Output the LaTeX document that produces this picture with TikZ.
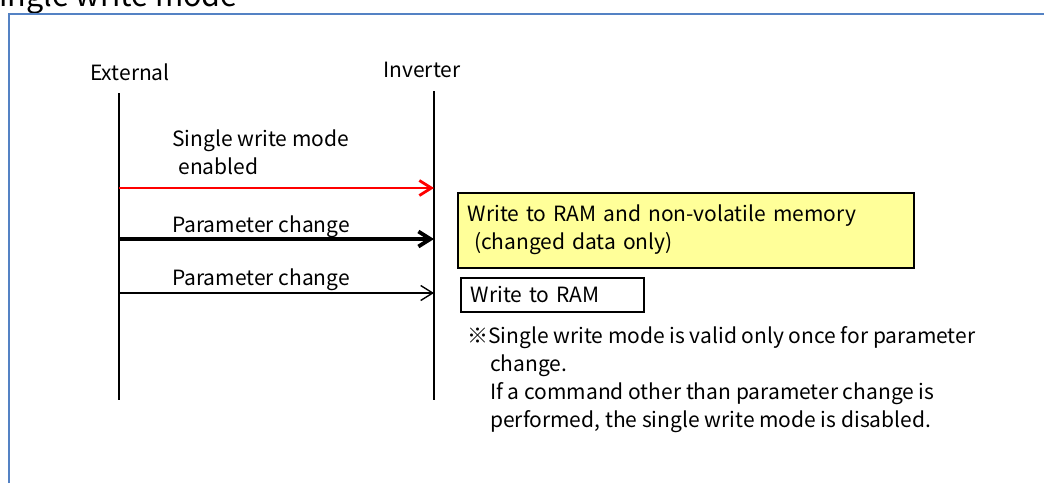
\documentclass[tikz,border=0pt]{standalone}
\usepackage{fontspec}
\setmainfont{Noto Sans CJK JP}
\usetikzlibrary{arrows.meta, positioning}
\definecolor{framebl}{RGB}{84,130,196}
\definecolor{memyel}{RGB}{255,255,153}

\begin{document}
\begin{tikzpicture}[x=1pt, y=-1pt, font=\fontsize{21}{28}\selectfont, >={Straight Barb[length=12pt,width=15pt]}]
    \tikzstyle{lifeline} = [line width=1.6pt]
    \tikzstyle{msg} = [->, line width=1.4pt]
    \tikzstyle{lbl} = [anchor=base west, inner sep=0pt, align=left]
    \tikzstyle{resbox} = [draw, line width=1.5pt, anchor=north west, inner xsep=10pt, inner ysep=0pt, align=left]

    \useasboundingbox (0,0) rectangle (1044,483);
    \clip (0,0) rectangle (1044,483);

    \node [anchor=base east, inner sep=0pt, font=\fontsize{30.5}{36}\selectfont] (title) at (238,6) {Single write mode};
    \draw [framebl, line width=2.6pt] (9,483) -- (9,14) -- (1044,14);

    \node (ext) at (130,72) {External};
    \node (inv) at (422,70) {Inverter};
    \coordinate (extEnd) at (119,400);
    \coordinate (invEnd) at (434,400);
    \draw [lifeline] (ext.south -| extEnd) ++(0,9) -- (extEnd);
    \draw [lifeline] (inv.south -| invEnd) ++(0,10) -- (invEnd);

    \coordinate (m1a) at (119,188);
    \coordinate (m1b) at (434,188);
    \coordinate (m2a) at (119,239);
    \coordinate (m2b) at (434,239);
    \coordinate (m3a) at (119,293);
    \coordinate (m3b) at (434,293);

    \draw [msg, red, line width=2.8pt] (m1a) -- (m1b);
    \draw [msg, line width=3.8pt] (m2a) -- (m2b);
    \draw [msg] (m3a) -- (m3b);

    \node [lbl] (l1) at (172,174) {Single write mode\\\hspace*{0.3em}enabled};
    \node [lbl] (l2) at (172,232) {Parameter change};
    \node [lbl] (l3) at (172,285) {Parameter change};

    \node [resbox, fill=memyel, text width=436pt, minimum height=75pt] (nvm) at (457,192) {Write to RAM and non-volatile memory\\\hspace*{0.3em}(changed data only)};
    \node [resbox, fill=white, text width=163pt, minimum height=34pt] (ram) at (460,277) {Write to RAM};

    \node [anchor=north west, inner sep=0pt, align=left] (note) at (467,326) {※Single write mode is valid only once for parameter\\
        \hspace*{23pt}change.\\
        \hspace*{23pt}If a command other than parameter change is\\
        \hspace*{23pt}performed, the single write mode is disabled.};
\end{tikzpicture}
\end{document}
